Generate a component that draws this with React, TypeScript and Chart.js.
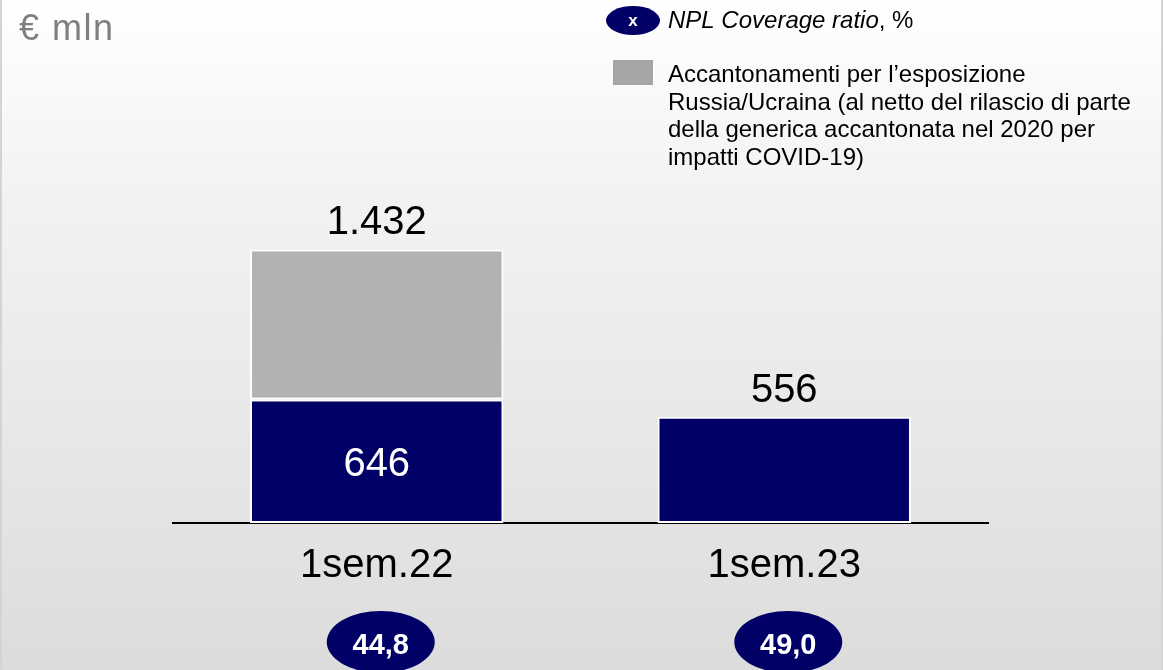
import React, { useEffect, useRef } from "react";
import { Chart, registerables } from "chart.js";

Chart.register(...registerables);

const categories = ["1sem.22", "1sem.23"];
const baseProvisions = [646, 556];
const russiaProvisions = [786, 0];
const coverageRatio = [44.8, 49.0];

const unitLabel = "€ mln";
const legendCoverage = "NPL Coverage ratio";
const legendRussiaLines = [
  "Accantonamenti per l’esposizione",
  "Russia/Ucraina (al netto del rilascio di parte",
  "della generica accantonata nel 2020 per",
  "impatti COVID-19)",
];

const NAVY = "#000066";
const GREY = "#b2b2b2";
const FONT = "'Liberation Sans', Arial, sans-serif";

const fmtInt = (v: number) =>
  String(Math.round(v)).replace(/\B(?=(\d{3})+(?!\d))/g, ".");
const fmtDec = (v: number) => v.toFixed(1).replace(".", ",");

const overlayPlugin = {
  id: "overlay",
  afterDatasetsDraw(chart: any) {
    const ctx = chart.ctx as CanvasRenderingContext2D;
    const x = chart.scales.x;
    const y = chart.scales.y;
    ctx.save();

    // unit label
    ctx.font = `36px ${FONT}`;
    ctx.fillStyle = "#7f7f7f";
    ctx.textAlign = "left";
    ctx.textBaseline = "alphabetic";
    (ctx as any).letterSpacing = "1.5px";
    ctx.fillText(unitLabel, 19, 40);
    (ctx as any).letterSpacing = "0px";

    categories.forEach((cat, i) => {
      const cx = x.getPixelForValue(i);
      const total = baseProvisions[i] + russiaProvisions[i];
      ctx.font = `40px ${FONT}`;
      ctx.fillStyle = "#000";
      ctx.textAlign = "center";
      ctx.textBaseline = "alphabetic";
      const topPx = y.getPixelForValue(total);
      ctx.fillText(fmtInt(total), cx, topPx - 15);
      if (russiaProvisions[i] > 0) {
        const mid = (y.getPixelForValue(0) + y.getPixelForValue(baseProvisions[i])) / 2;
        ctx.fillStyle = "#fff";
        ctx.fillText(fmtInt(baseProvisions[i]), cx, mid + 15);
      }
      ctx.fillStyle = "#000";
      ctx.fillText(cat, cx, y.getPixelForValue(0) + 54);
      const ey = 642;
      const ecx = cx + 4;
      ctx.beginPath();
      ctx.ellipse(ecx, ey, 54, 31, 0, 0, Math.PI * 2);
      ctx.fillStyle = NAVY;
      ctx.fill();
      ctx.font = `bold 29px ${FONT}`;
      ctx.fillStyle = "#fff";
      ctx.fillText(fmtDec(coverageRatio[i]), ecx, 654);
    });

    // legend: coverage
    ctx.beginPath();
    ctx.ellipse(633, 20.5, 27, 14.5, 0, 0, Math.PI * 2);
    ctx.fillStyle = NAVY;
    ctx.fill();
    ctx.font = `bold 17px ${FONT}`;
    ctx.fillStyle = "#fff";
    ctx.textAlign = "center";
    ctx.fillText("x", 633, 26);
    ctx.textAlign = "left";
    ctx.fillStyle = "#000";
    ctx.font = `italic 24px ${FONT}`;
    ctx.fillText(legendCoverage, 668, 28);
    const w = ctx.measureText(legendCoverage).width;
    ctx.font = `24px ${FONT}`;
    ctx.fillText(", %", 668 + w, 28);

    // legend: russia
    ctx.fillStyle = "#a6a6a6";
    ctx.fillRect(613, 60, 40, 25);
    ctx.fillStyle = "#000";
    legendRussiaLines.forEach((line, k) => {
      ctx.fillText(line, 668, 82 + k * 27.7);
    });

    // side borders
    ctx.fillStyle = "#d4d4d4";
    ctx.fillRect(0, 0, 2, 670);
    ctx.fillRect(1161, 0, 2, 670);

    ctx.restore();
  },
};

export default function App() {
  const ref = useRef<HTMLCanvasElement>(null);
  useEffect(() => {
    if (!ref.current) return;
    const chart = new Chart(ref.current, {
      type: "bar",
      data: {
        labels: categories,
        datasets: [
          {
            label: "Base",
            data: baseProvisions,
            backgroundColor: NAVY,
            borderColor: "#ffffff",
            borderWidth: 2,
            borderSkipped: false,
            barPercentage: 0.622,
            categoryPercentage: 1,
          },
          {
            label: "Russia/Ucraina",
            data: russiaProvisions.map((v) => (v > 0 ? v : null)),
            backgroundColor: GREY,
            borderColor: "#ffffff",
            borderWidth: 2,
            borderSkipped: false,
            barPercentage: 0.622,
            categoryPercentage: 1,
          },
        ],
      },
      options: {
        animation: false,
        responsive: false,
        maintainAspectRatio: false,
        layout: { padding: { left: 173, right: 175, top: 141, bottom: 147 } },
        plugins: { legend: { display: false }, tooltip: { enabled: false } },
        scales: {
          x: {
            stacked: true,
            grid: { display: false, drawTicks: false },
            ticks: { display: false },
            border: { display: true, color: "#000", width: 2 },
          },
          y: {
            stacked: true,
            display: false,
            min: 0,
            max: 2000,
          },
        },
      },
      plugins: [overlayPlugin],
    });
    return () => chart.destroy();
  }, []);
  return (
    <div
      style={{
        position: "fixed",
        left: 0,
        top: 0,
        width: 1163,
        height: 670,
        background:
          "linear-gradient(to bottom, #ffffff 0%, #f2f2f2 30%, #e6e6e6 70%, #dcdcdc 100%)",
        overflow: "hidden",
      }}
    >
      <canvas
        ref={ref}
        width={1163}
        height={670}
        style={{ display: "block", width: 1163, height: 670 }}
      />
    </div>
  );
}
